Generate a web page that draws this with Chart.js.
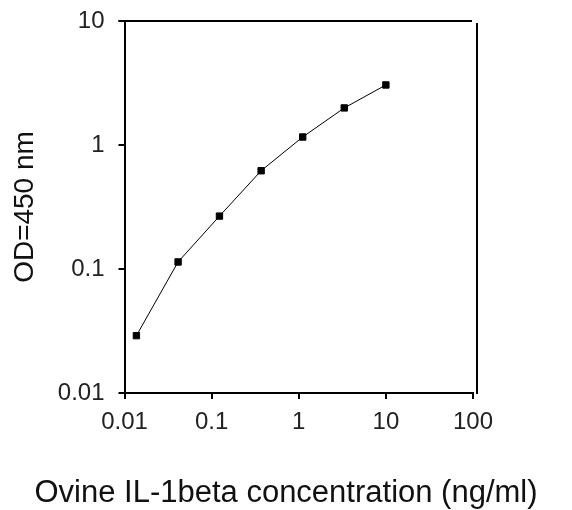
<!DOCTYPE html>
<html>
<head>
<meta charset="utf-8">
<script src="https://cdn.jsdelivr.net/npm/chart.js@4"></script>
<style>
  html, body { margin: 0; padding: 0; background: #fff; }
  #wrap { width: 572px; height: 510px; }
</style>
</head>
<body>
<div id="wrap"><canvas id="odChart" width="572" height="510"></canvas></div>
<script>
// Standard curve data (3-fold dilutions)
const concentrations = [0.0137, 0.0412, 0.123, 0.37, 1.11, 3.33, 10];
const odValues = [0.029, 0.114, 0.267, 0.62, 1.16, 1.99, 3.05];
const xTicks = [0.01, 0.1, 1, 10, 100];
const yTicks = [0.01, 0.1, 1, 10];
const xTitle = 'Ovine IL-1beta concentration (ng/ml)';

// box lines on top and right, plus the x title (drawn here so it is not squeezed to the plot width)
const frameLines = {
    id: 'frameLines',
    afterDraw(chart) {
        const a = chart.chartArea;
        const c = chart.ctx;
        c.save();
        c.strokeStyle = '#000';
        c.lineWidth = 2;
        c.beginPath();
        c.moveTo(a.left - 6, a.top);
        c.lineTo(a.right - 1, a.top);
        c.moveTo(a.right + 4, a.top + 2);
        c.lineTo(a.right + 4, a.bottom + 1);
        c.stroke();

        c.fillStyle = '#111';
        c.font = '31px "Liberation Sans", Arial, sans-serif';
        c.textAlign = 'center';
        c.textBaseline = 'middle';
        c.fillText(xTitle, chart.width / 2, 493);
        c.restore();
    }
};

document.addEventListener("DOMContentLoaded", function () {
    const ctx = document.getElementById('odChart').getContext('2d');
    new Chart(ctx, {
        type: 'scatter',
        data: {
            datasets: [{
                data: concentrations.map((c, i) => ({ x: c, y: odValues[i] })),
                showLine: true,
                borderColor: '#000',
                borderWidth: 1,
                backgroundColor: '#000',
                pointStyle: 'rect',
                pointRadius: 4.5,
                pointHoverRadius: 4.5
            }]
        },
        options: {
            responsive: false,
            animation: false,
            layout: { padding: { left: 0, right: 99, top: 21, bottom: 0 } },
            plugins: { legend: { display: false }, tooltip: { enabled: false } },
            scales: {
                x: {
                    type: 'logarithmic',
                    min: 0.01,
                    max: 100,
                    afterBuildTicks: s => { s.ticks = xTicks.map(v => ({ value: v })); },
                    afterFit: s => { s.height = 117; s.paddingLeft = 0; s.paddingRight = 0; },
                    ticks: {
                        color: '#222',
                        font: { family: 'Liberation Sans', size: 24 },
                        padding: 9,
                        maxRotation: 0,
                        callback: v => String(v)
                    },
                    grid: { drawOnChartArea: false, drawTicks: true, tickLength: 6, color: '#000', lineWidth: 2 },
                    border: { display: true, color: '#000', width: 2 },
                    title: { display: false }
                },
                y: {
                    type: 'logarithmic',
                    min: 0.01,
                    max: 10,
                    afterBuildTicks: s => { s.ticks = yTicks.map(v => ({ value: v })); },
                    afterFit: s => { s.width = 124.5; s.paddingTop = 0; s.paddingBottom = 0; },
                    ticks: {
                        color: '#222',
                        font: { family: 'Liberation Sans', size: 24 },
                        padding: 14,
                        callback: v => String(v)
                    },
                    grid: { drawOnChartArea: false, drawTicks: true, tickLength: 6, color: '#000', lineWidth: 2 },
                    border: { display: true, color: '#000', width: 2 },
                    title: {
                        display: true,
                        text: 'OD=450 nm',
                        color: '#111',
                        font: { family: 'Liberation Sans', size: 28 },
                        padding: { top: 8, bottom: 0 }
                    }
                }
            }
        },
        plugins: [frameLines]
    });
});
</script>
</body>
</html>
